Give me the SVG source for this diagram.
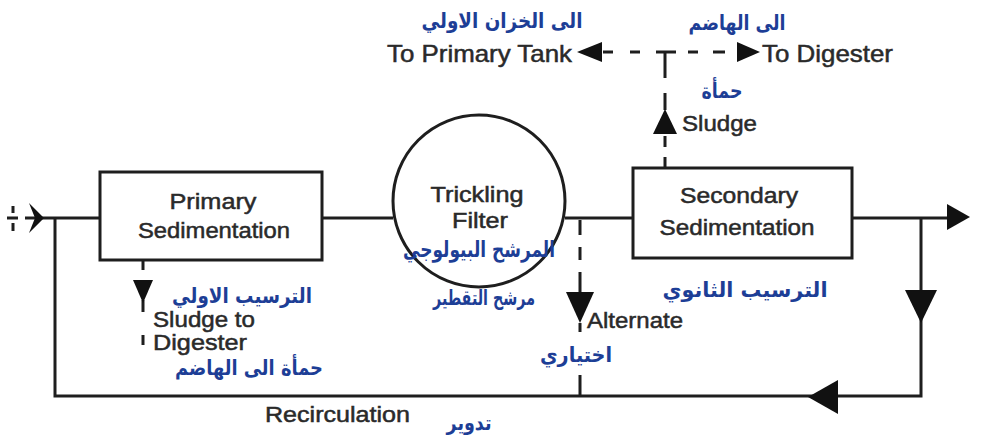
<svg xmlns="http://www.w3.org/2000/svg" width="983" height="438" viewBox="0 0 983 438">
  <style>
    .bg { fill: #ffffff; }
    .unit { fill: #ffffff; stroke: #1e1e1e; stroke-width: 3; }
    .line { fill: none; stroke: #1e1e1e; stroke-width: 3; }
    .head { fill: #111111; stroke: none; }
    .en { font-family: "Liberation Sans", Arial, sans-serif; fill: #2a2a2a; stroke: #2a2a2a; stroke-width: 0.5; }
    .ar { font-family: "DejaVu Sans", "Noto Sans", sans-serif; font-weight: bold; fill: #1d3e96; text-anchor: middle; }
    .mid { text-anchor: middle; }
  </style>

  <rect class="bg" x="0" y="0" width="983" height="438"/>

  <!-- flow lines, dashed sludge lines and arrowheads -->
  <g id="connectors">
    <!-- inlet -->
    <path class="line" d="M13,206 V213 M13,223 V231 M7,218 H18" stroke-width="2.5"/>
    <path class="line" d="M25,218 H100"/>
    <path class="head" d="M44,218 L29,203 L35,218 L29,233 Z"/>
    <!-- primary -> filter -> secondary -> outlet -->
    <path class="line" d="M322,218 H393"/>
    <path class="line" d="M565,218 H633"/>
    <path class="line" d="M852,218 H948"/>
    <path class="head" d="M970,217 L947,204 L947,230 Z"/>
    <!-- recirculation loop -->
    <path class="line" d="M921,218 V396 H55 V218"/>
    <path class="head" d="M905,290 L937,290 L921,323 Z"/>
    <path class="head" d="M808,397 L838,380 L838,414 Z"/>
    <!-- alternate recirculation -->
    <path class="line" d="M580,220 V235 M580,247 V260 M580,272 V292 M580,323 V332 M580,375 V396"/>
    <path class="head" d="M566,292 L594,292 L580,323 Z"/>
    <!-- primary sludge to digester -->
    <path class="line" d="M143,260 V270 M143,300 V312 M143,335 V345"/>
    <path class="head" d="M133,280 L153,280 L143,303 Z"/>
    <!-- secondary sludge -->
    <path class="line" d="M665,168 V157 M665,147 V136 M665,110 V93 M665,78 V52"/>
    <path class="head" d="M665,109 L677,134 L653,134 Z"/>
    <!-- sludge split: primary tank / digester -->
    <path class="line" d="M603,52 H613 M630,52 H640 M656,52 H676 M688,52 H698 M713,52 H725"/>
    <path class="head" d="M577,52 L602,42 L602,62 Z"/>
    <path class="head" d="M760,52 L737,42 L737,62 Z"/>
  </g>

  <g id="primary-sedimentation">
    <rect class="unit" x="100" y="172" width="222" height="88"/>
    <text class="en mid" x="213" y="209" font-size="22" textLength="87" lengthAdjust="spacingAndGlyphs">Primary</text>
    <text class="en mid" x="214" y="238" font-size="22" textLength="152" lengthAdjust="spacingAndGlyphs">Sedimentation</text>
  </g>

  <g id="trickling-filter">
    <circle class="unit" cx="479" cy="201" r="86"/>
    <text class="en mid" x="477" y="202" font-size="22" textLength="93" lengthAdjust="spacingAndGlyphs">Trickling</text>
    <text class="en mid" x="480" y="228" font-size="22" textLength="56" lengthAdjust="spacingAndGlyphs">Filter</text>
  </g>

  <g id="secondary-sedimentation">
    <rect class="unit" x="633" y="168" width="219" height="90"/>
    <text class="en mid" x="739" y="203" font-size="22" textLength="118" lengthAdjust="spacingAndGlyphs">Secondary</text>
    <text class="en mid" x="737" y="235" font-size="22" textLength="155" lengthAdjust="spacingAndGlyphs">Sedimentation</text>
  </g>

  <!-- English labels -->
  <g id="labels-en">
    <text class="en" x="387" y="62" font-size="24" textLength="185" lengthAdjust="spacingAndGlyphs">To Primary Tank</text>
    <text class="en" x="762" y="62" font-size="24" textLength="131" lengthAdjust="spacingAndGlyphs">To Digester</text>
    <text class="en" x="682" y="131" font-size="22" textLength="75" lengthAdjust="spacingAndGlyphs">Sludge</text>
    <text class="en" x="153" y="327" font-size="22" textLength="102" lengthAdjust="spacingAndGlyphs">Sludge to</text>
    <text class="en" x="153" y="350" font-size="22" textLength="94" lengthAdjust="spacingAndGlyphs">Digester</text>
    <text class="en" x="587" y="328" font-size="22" textLength="96" lengthAdjust="spacingAndGlyphs">Alternate</text>
    <text class="en" x="265" y="422" font-size="22" textLength="145" lengthAdjust="spacingAndGlyphs">Recirculation</text>
  </g>

  <!-- Arabic labels -->
  <g id="labels-ar">
    <text class="ar" x="502" y="28" font-size="21" textLength="161" lengthAdjust="spacingAndGlyphs">الى الخزان الاولي</text>
    <text class="ar" x="737" y="30" font-size="21" textLength="97" lengthAdjust="spacingAndGlyphs">الى الهاضم</text>
    <text class="ar" x="722" y="98" font-size="21" textLength="41" lengthAdjust="spacingAndGlyphs">حمأة</text>
    <text class="ar" x="242" y="303" font-size="21" textLength="140" lengthAdjust="spacingAndGlyphs">الترسيب الاولي</text>
    <text class="ar" x="249" y="375" font-size="21" textLength="148" lengthAdjust="spacingAndGlyphs">حمأة الى الهاضم</text>
    <text class="ar" x="469" y="430" font-size="21" textLength="45" lengthAdjust="spacingAndGlyphs">تدوير</text>
    <text class="ar" x="479" y="257" font-size="22" textLength="152" lengthAdjust="spacingAndGlyphs">المرشح البيولوجي</text>
    <text class="ar" x="484" y="305" font-size="21" textLength="102" lengthAdjust="spacingAndGlyphs">مرشح التقطير</text>
    <text class="ar" x="745" y="297" font-size="21" textLength="165" lengthAdjust="spacingAndGlyphs">الترسيب الثانوي</text>
    <text class="ar" x="576" y="362" font-size="21" textLength="72" lengthAdjust="spacingAndGlyphs">اختياري</text>
  </g>
</svg>
